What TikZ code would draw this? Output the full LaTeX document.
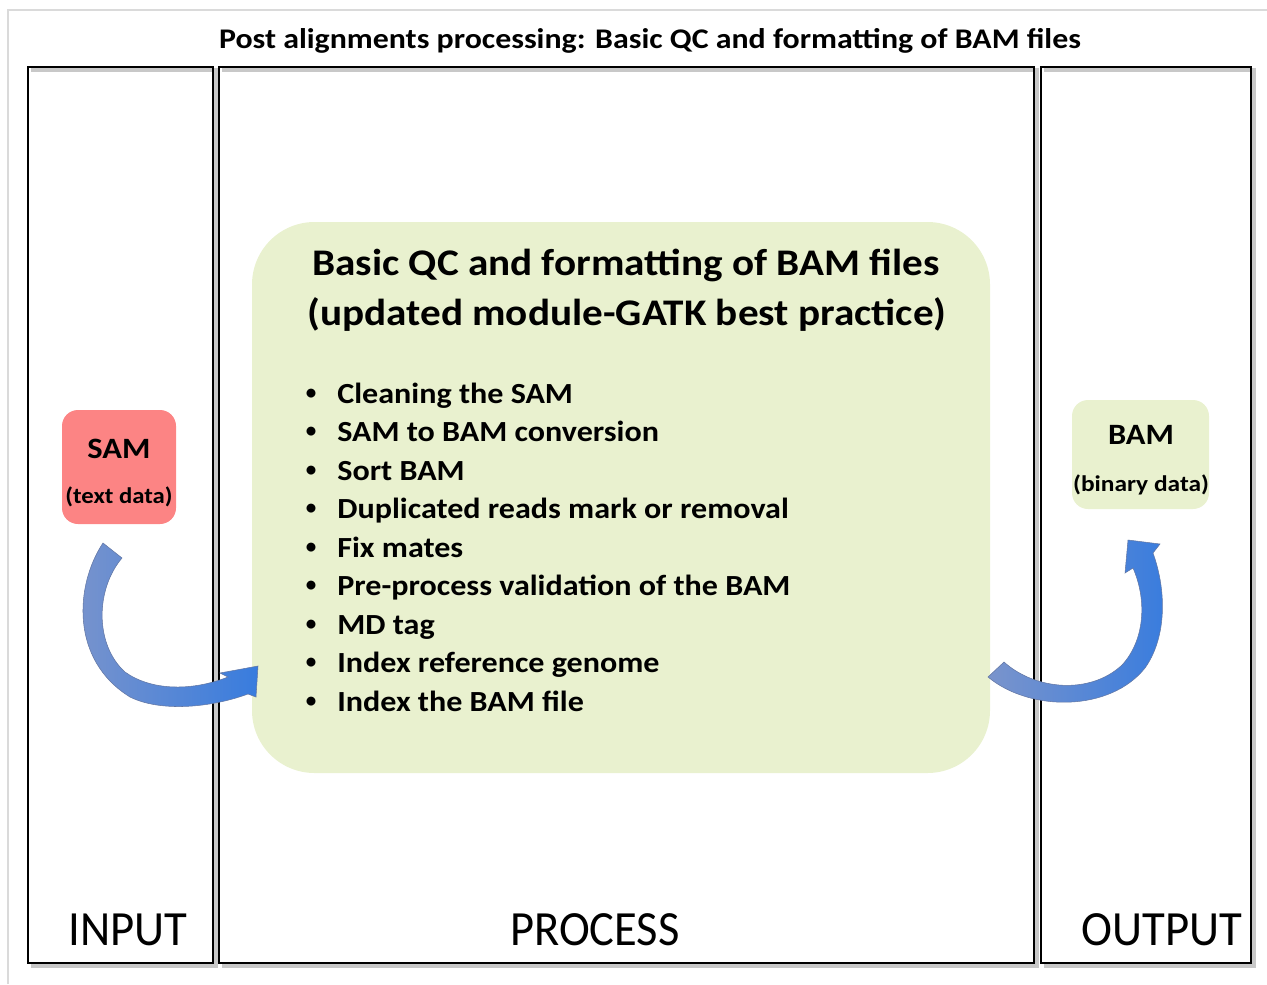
\documentclass[tikz,border=0pt]{standalone}
\usepackage{fontspec}
\setmainfont{Carlito}
\definecolor{pale}{RGB}{233,241,207}
\definecolor{salmon}{RGB}{252,132,132}
\definecolor{arrowA}{RGB}{122,148,204}
\definecolor{arrowB}{RGB}{56,124,222}
\definecolor{framegray}{RGB}{218,218,218}
\definecolor{shadowgray}{RGB}{200,200,200}
\newcommand{\hs}[2]{\scalebox{#1}[1]{#2}}
\begin{document}
\begin{tikzpicture}[x=0.02cm,y=-0.02cm,
  panel/.style={draw=black, line width=1.5pt},
  panelshadow/.style={draw=shadowgray, line width=2pt},
  boldtxt/.style={font=\bfseries, inner sep=0pt, anchor=base},
  titletxt/.style={boldtxt, font=\fontsize{16.2}{19}\selectfont\bfseries},
  headtxt/.style={boldtxt, font=\fontsize{21.4}{25}\selectfont\bfseries},
  itemtxt/.style={inner sep=0pt, anchor=base west, font=\fontsize{16.6}{19}\selectfont\bfseries},
  bullettxt/.style={inner sep=0pt, anchor=base, font=\fontsize{12}{14}\selectfont\bfseries},
  bigtxt/.style={boldtxt, font=\fontsize{16.8}{19}\selectfont\bfseries},
  smalltxt/.style={boldtxt, font=\fontsize{12.8}{15}\selectfont\bfseries},
  paneltxt/.style={inner sep=0pt, anchor=base, font=\fontsize{28}{32}\selectfont},
  blockarrow/.style={shade, left color=arrowA, right color=arrowB, draw=arrowA!80!black, line width=0.3pt}
]
\useasboundingbox (0,0) rectangle (1267,984);
\draw[framegray, line width=0.8pt] (8,984) -- (8,10) -- (1267,10);

% title
\node[titletxt] (title) at (650,48) {\hs{1.12}{Post alignments processing: Basic QC and formatting of BAM files}};

% panels
\foreach \xa/\xb in {28/213, 219/1034, 1041/1251}{
  \draw[panelshadow] (\xa+3,70) -- (\xb+3,70) -- (\xb+3,966) -- (\xa+3,966);
}
\draw[panel] (28,67) rectangle (213,963);
\draw[panel] (219,67) rectangle (1034,963);
\draw[panel] (1041,67) rectangle (1251,963);

\node[paneltxt] (inlbl) at (128,945) {\hs{0.95}{INPUT}};
\node[paneltxt] (proclbl) at (595,945) {\hs{0.945}{PROCESS}};
\node[paneltxt] (outlbl) at (1162,945) {\hs{0.95}{OUTPUT}};

% main green block
\fill[pale, rounded corners=1.25cm] (252,222) rectangle (990,773);
\node[headtxt] (h1) at (626,275) {\hs{1.095}{Basic QC and formatting of BAM files}};
\node[headtxt] (h2) at (627,325) {\hs{1.095}{(updated module-GATK best practice)}};

\foreach \t [count=\i from 0] in {Cleaning the SAM, SAM to BAM conversion, Sort BAM,
  Duplicated reads mark or removal, Fix mates, Pre-process validation of the BAM,
  MD tag, Index reference genome, Index the BAM file}{
  \node[bullettxt] (b\i) at (311,{399+38.5*\i}) {•};
  \node[itemtxt] (it\i) at (337,{403+38.5*\i}) {\hs{1.1}{\t}};
}

% SAM box
\fill[salmon, rounded corners=0.32cm] (62,410) rectangle (176,524);
\node[bigtxt] (sam) at (119,458) {\hs{1.1}{SAM}};
\node[smalltxt] (samd) at (119,503) {\hs{1.1}{(text data)}};

% BAM box
\fill[pale, rounded corners=0.32cm] (1072,400) rectangle (1209,509);
\node[bigtxt] (bam) at (1141,444) {\hs{1.1}{BAM}};
\node[smalltxt] (bamd) at (1141,491) {\hs{1.13}{(binary data)}};

% left curved arrow
\path[blockarrow] (103,543) .. controls (75,585) and (70,660) .. (130,697)
  .. controls (160,712) and (210,708) .. (248,694)
  -- (256,697) -- (258,666) -- (220,673) -- (228,677)
  .. controls (190,692) and (150,690) .. (125,672)
  .. controls (95,645) and (95,590) .. (122,558) -- cycle;

% right curved arrow
\path[blockarrow] (988,677) .. controls (1030,712) and (1110,712) .. (1145,668)
  .. controls (1165,640) and (1168,595) .. (1153,553)
  -- (1160,544) -- (1128,540) -- (1125,573) -- (1133,568)
  .. controls (1147,600) and (1145,640) .. (1122,665)
  .. controls (1090,695) and (1035,690) .. (1004,662) -- cycle;
\end{tikzpicture}
\end{document}
